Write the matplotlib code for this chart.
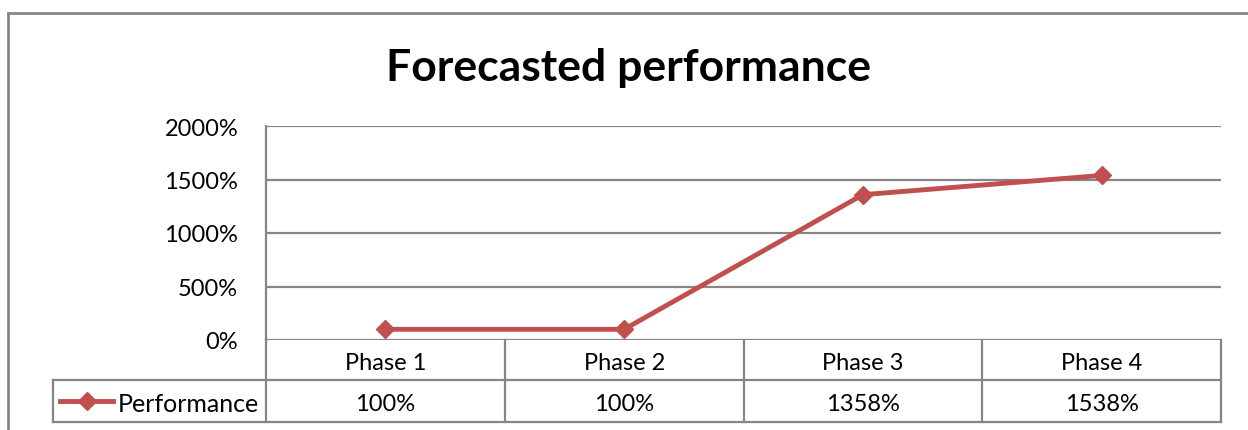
import matplotlib
matplotlib.use("Agg")
import matplotlib.pyplot as plt
from matplotlib.lines import Line2D
from matplotlib.patches import Rectangle

# data
phases = ["Phase 1", "Phase 2", "Phase 3", "Phase 4"]
performance = [100, 100, 1358, 1538]
series_name = "Performance"
yticks = [0, 500, 1000, 1500, 2000]

plt.rcParams['font.family'] = ['Lato', 'DejaVu Sans']

red = "#C0504D"
grey = "#868686"
W, H = 1248, 431
fs = 17

fig = plt.figure(figsize=(W / 100, H / 100), dpi=100)
fig.patch.set_facecolor("white")

# outer chart border (cut off on right and bottom)
fig.add_artist(Rectangle((8 / W, -0.2), 1.2, 1 - 14 / H + 0.2, transform=fig.transFigure,
                         fill=False, edgecolor=grey, lw=2))

left, right, top, bottom = 266 / W, 1221 / W, 1 - 127 / H, 1 - 341 / H
ax = fig.add_axes([left, bottom, right - left, top - bottom])

x = range(len(phases))
ax.plot(x, performance, color=red, lw=3.5, marker="D", markersize=9.5, zorder=3, clip_on=False)
ax.set_xlim(-0.5, len(phases) - 0.5)
ax.set_ylim(0, 2000)
ax.set_yticks(yticks)
ax.set_yticklabels(["%d%%" % v for v in yticks], fontsize=fs)
ax.tick_params(axis="y", length=0, pad=20)
ax.set_xticks([])
for v in yticks:
    ax.axhline(v, color=grey, lw=1.6, zorder=1)
for s in ["top", "right", "bottom"]:
    ax.spines[s].set_visible(False)
ax.spines["left"].set_color(grey)
ax.spines["left"].set_linewidth(1.6)

fig.text(628 / W, 1 - 68 / H, "Forecasted performance", ha="center", va="center",
         fontsize=32, fontweight="bold")

# data table below the axes
ph = 214.0
r1 = -40 / ph
r2 = -82 / ph
xl = (53 - 266) / 955.0
dy = -3 / ph  # text sits a bit low in its cell
trans = ax.transAxes
def seg(x0, y0, x1, y1):
    ax.add_line(Line2D([x0, x1], [y0, y1], transform=trans, color=grey, lw=1.6, clip_on=False))

seg(0, 0, 0, r2)
seg(1, 0, 1, r2)
seg(xl, r1, 1, r1)
seg(xl, r2, 1, r2)
seg(xl, r1, xl, r2)
for i in range(1, len(phases)):
    seg(i / len(phases), 0, i / len(phases), r2)

for i, (p, v) in enumerate(zip(phases, performance)):
    cx = (i + 0.5) / len(phases)
    ax.text(cx, r1 / 2 + dy, p, transform=trans, ha="center", va="center", fontsize=fs)
    ax.text(cx, (r1 + r2) / 2 + dy, "%d%%" % v, transform=trans, ha="center", va="center", fontsize=fs)

ym = (r1 + r2) / 2
lx0, lx1 = (60 - 266) / 955.0, (113 - 266) / 955.0
ax.add_line(Line2D([lx0, lx1], [ym, ym], transform=trans, color=red, lw=3.5, clip_on=False))
ax.add_line(Line2D([(lx0 + lx1) / 2], [ym], transform=trans, color=red, marker="D",
                   markersize=9.5, clip_on=False))
ax.text((118 - 266) / 955.0, ym + dy, series_name, transform=trans, ha="left", va="center",
        fontsize=18)

fig.savefig("out.png", dpi=100)
